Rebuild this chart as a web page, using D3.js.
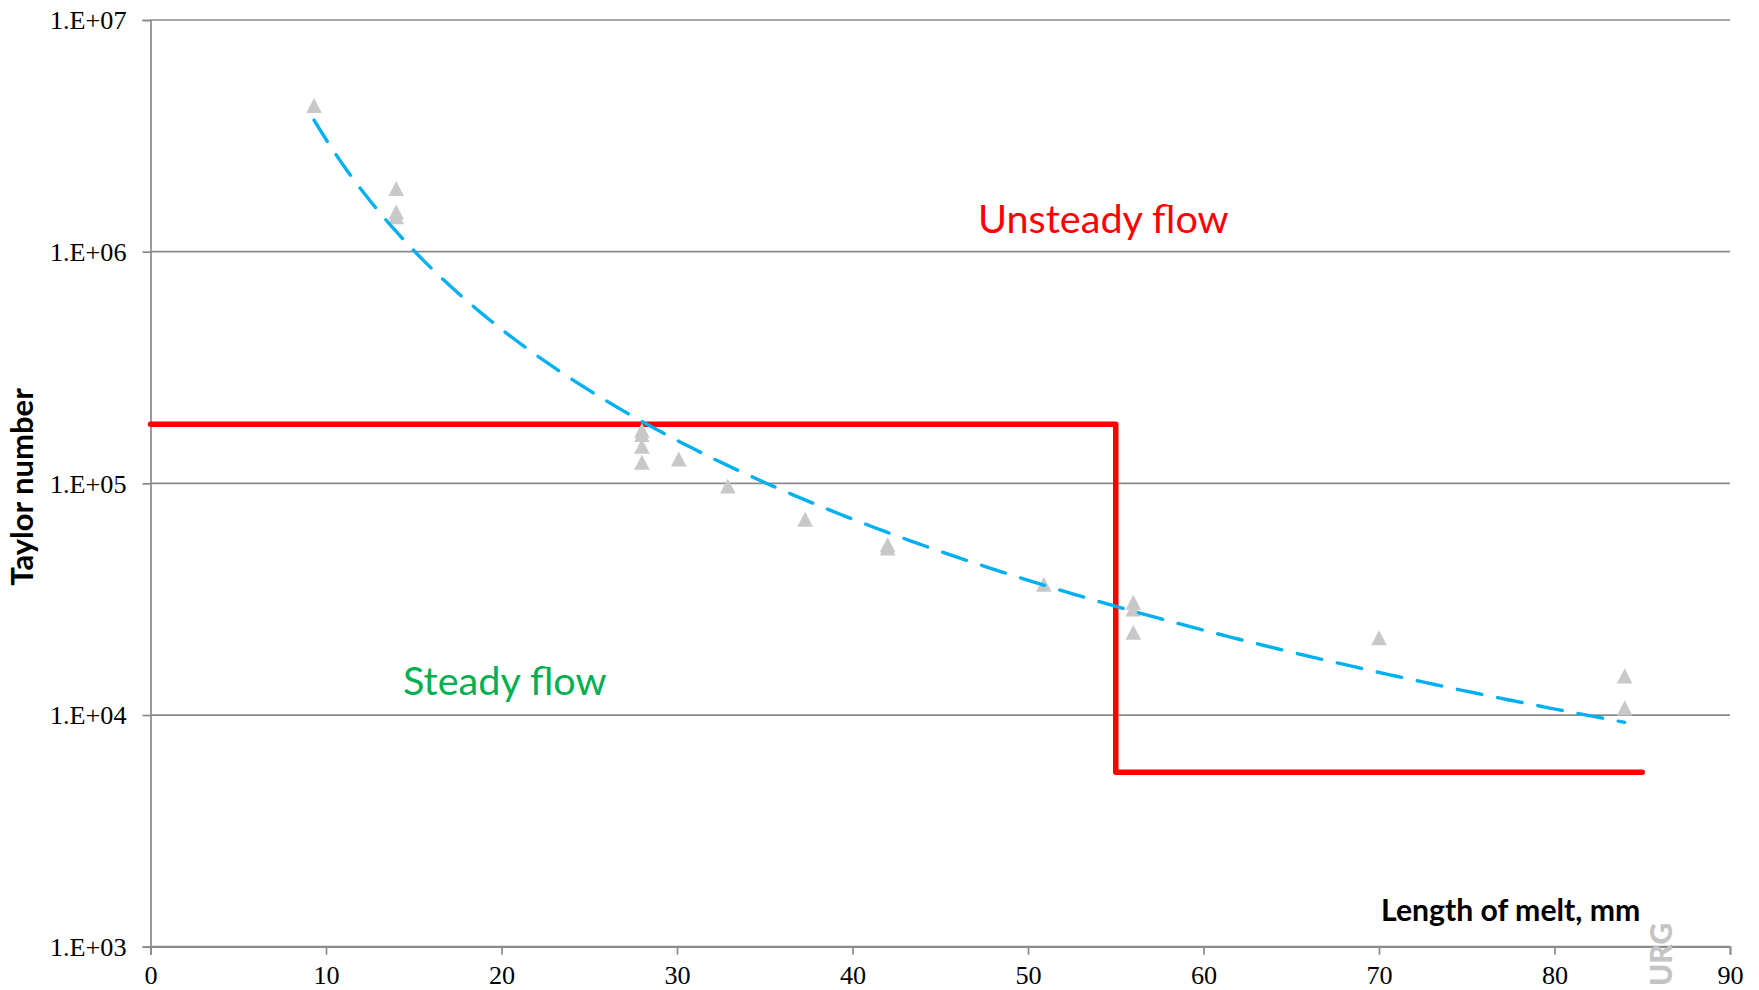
<!DOCTYPE html>
<html>
<head>
<meta charset="utf-8">
<script src="https://cdn.jsdelivr.net/npm/d3@7"></script>
<style>
  html, body { margin: 0; padding: 0; background: #ffffff; }
  svg { display: block; }
</style>
</head>
<body>
<svg id="chart" width="1759" height="990"></svg>
<script>
// Measured Taylor numbers versus melt length
const lengthMm = [9.32, 14, 14, 14, 28, 28, 28, 28, 30.1, 32.9, 37.3, 42, 42, 50.9, 56, 56, 56, 70, 84, 84];
const taylorNumber = [4.26e6, 1.87e6, 1.48e6, 1.41e6, 1.69e5, 1.62e5, 1.44e5, 1.23e5, 1.27e5, 9.7e4,
                      6.98e4, 5.42e4, 5.25e4, 3.66e4, 3.06e4, 2.86e4, 2.27e4, 2.15e4, 1.47e4, 1.07e4];

// Critical Taylor number separating steady and unsteady flow
const boundaryLength = [0, 55, 55, 85];
const boundaryTaylor = [1.8e5, 1.8e5, 5.66e3, 5.66e3];

// Axis ticks
const xTicks = [0, 10, 20, 30, 40, 50, 60, 70, 80, 90];
const yTicks = [1e3, 1e4, 1e5, 1e6, 1e7];
const yTickLabels = ["1.E+03", "1.E+04", "1.E+05", "1.E+06", "1.E+07"];

const svg = d3.select("#chart");
const plot = { left: 150.5, top: 20, right: 1730, bottom: 946.7 };

const x = d3.scaleLinear().domain([0, 90]).range([plot.left, plot.right]);
const y = d3.scaleLog().domain([1e3, 1e7]).range([plot.bottom, plot.top]);

const gridColor = "#8a8a8a";
const serif = "'Liberation Serif', 'Times New Roman', serif";
const sans = "Lato, 'Open Sans', sans-serif";

// Horizontal gridlines at each decade
svg.append("g")
  .selectAll("line")
  .data(yTicks)
  .join("line")
  .attr("x1", plot.left)
  .attr("x2", plot.right)
  .attr("y1", d => y(d))
  .attr("y2", d => y(d))
  .attr("stroke", gridColor)
  .attr("stroke-width", 1.7);

// Y axis
const yAxis = svg.append("g")
  .attr("transform", `translate(${plot.left},0)`)
  .call(d3.axisLeft(y).tickValues(yTicks).tickFormat((d, i) => yTickLabels[i]).tickSize(8).tickPadding(16));
yAxis.select(".domain").attr("stroke", gridColor).attr("stroke-width", 1.7);
yAxis.selectAll(".tick line").attr("stroke", gridColor).attr("stroke-width", 1.7);
yAxis.selectAll(".tick text")
  .attr("font-family", serif)
  .attr("font-size", 26.2)
  .attr("fill", "#000")
  .attr("dy", "0.34em");

// X axis
const xAxis = svg.append("g")
  .attr("transform", `translate(0,${plot.bottom})`)
  .call(d3.axisBottom(x).tickValues(xTicks).tickFormat(d3.format("d")).tickSize(8).tickPadding(11));
xAxis.select(".domain").attr("stroke", gridColor).attr("stroke-width", 1.7);
xAxis.selectAll(".tick line").attr("stroke", gridColor).attr("stroke-width", 1.7);
xAxis.selectAll(".tick text")
  .attr("font-family", serif)
  .attr("font-size", 26.2)
  .attr("fill", "#000")
  .attr("dy", "0.71em");

// Steady / unsteady boundary
const boundary = boundaryLength.map((d, i) => [d, boundaryTaylor[i]]);
svg.append("path")
  .datum(boundary)
  .attr("d", d3.line().x(d => x(d[0])).y(d => y(d[1])))
  .attr("fill", "none")
  .attr("stroke", "#ff0000")
  .attr("stroke-width", 5.5)
  .attr("stroke-linecap", "round")
  .attr("stroke-linejoin", "round");

// Measurements
const tri = "M0,-7.8L7.8,7.2L-7.8,7.2Z";
svg.append("g")
  .selectAll("path")
  .data(lengthMm.map((d, i) => [d, taylorNumber[i]]))
  .join("path")
  .attr("d", tri)
  .attr("transform", d => `translate(${x(d[0])},${y(d[1])})`)
  .attr("fill", "#c8c8c8");

// Power-law trend (least squares in log-log space)
const lx = lengthMm.map(Math.log10);
const ly = taylorNumber.map(Math.log10);
const mx = d3.mean(lx), my = d3.mean(ly);
const slope = d3.sum(lx, (v, i) => (v - mx) * (ly[i] - my)) / d3.sum(lx, v => (v - mx) ** 2);
const icpt = my - slope * mx;
const [xmin, xmax] = d3.extent(lengthMm);
const trend = d3.range(0, 201).map(k => {
  const xv = xmin + (xmax - xmin) * k / 200;
  return [xv, Math.pow(10, icpt + slope * Math.log10(xv))];
});
svg.append("path")
  .datum(trend)
  .attr("d", d3.line().x(d => x(d[0])).y(d => y(d[1])))
  .attr("fill", "none")
  .attr("stroke", "#00b0f0")
  .attr("stroke-width", 3.4)
  .attr("stroke-linecap", "round")
  .attr("stroke-dasharray", "25,16");

// Region labels
svg.append("text")
  .attr("x", 978).attr("y", 233)
  .attr("font-family", sans).attr("font-size", 39.6)
  .attr("fill", "#ff0000")
  .text("Unsteady flow");

svg.append("text")
  .attr("x", 403).attr("y", 695)
  .attr("font-family", sans).attr("font-size", 39.6)
  .attr("fill", "#00b050")
  .text("Steady flow");

// Axis titles
svg.append("text")
  .attr("x", 1381).attr("y", 921)
  .attr("font-family", sans).attr("font-size", 30.2).attr("font-weight", "bold")
  .attr("fill", "#000")
  .text("Length of melt, mm");

svg.append("text")
  .attr("transform", "translate(33,487) rotate(-90)")
  .attr("text-anchor", "middle")
  .attr("font-family", sans).attr("font-size", 31).attr("font-weight", "bold")
  .attr("fill", "#000")
  .text("Taylor number");

// Watermark
svg.append("text")
  .attr("transform", "translate(1672,986) rotate(-90)")
  .attr("font-family", sans).attr("font-size", 30).attr("font-weight", 900)
  .attr("fill", "#c4c4c4")
  .text("URG");
</script>
</body>
</html>
